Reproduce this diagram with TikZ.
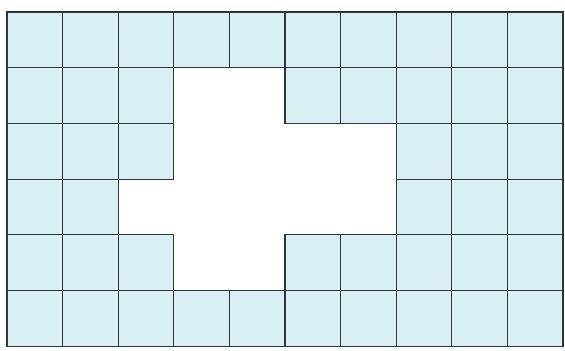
\documentclass[tikz,border=0pt]{standalone}
\definecolor{tilefill}{HTML}{D8EFF3}
\definecolor{tileline}{HTML}{2E3638}

\begin{document}
\begin{tikzpicture}[x=0.05cm,y=-0.05cm]
\tikzset{
  tile/.style={fill=tilefill},
  tileedge/.style={draw=tileline,line width=0.06cm},
  frame/.style={fill=white,draw=none}
}
\def\tilerows{0/{0,...,9},1/{0,1,2,5,6,7,8,9},2/{0,1,2,7,8,9},
              3/{0,1,7,8,9},4/{0,1,2,5,6,7,8,9},5/{0,...,9}}
\useasboundingbox[frame] (0,0) rectangle (565,350);
% fill first, then the edges on top
\foreach \r/\cols in \tilerows{
  \foreach \c in \cols{
    \path[tile] ({7+55.6*\c},{12+55.7*\r}) rectangle ++(55.6,55.7);
  }
}
\foreach \r/\cols in \tilerows{
  \foreach \c in \cols{
    \path[tileedge] ({7+55.6*\c},{12+55.7*\r}) rectangle ++(55.6,55.7);
  }
}
\end{tikzpicture}
\end{document}
